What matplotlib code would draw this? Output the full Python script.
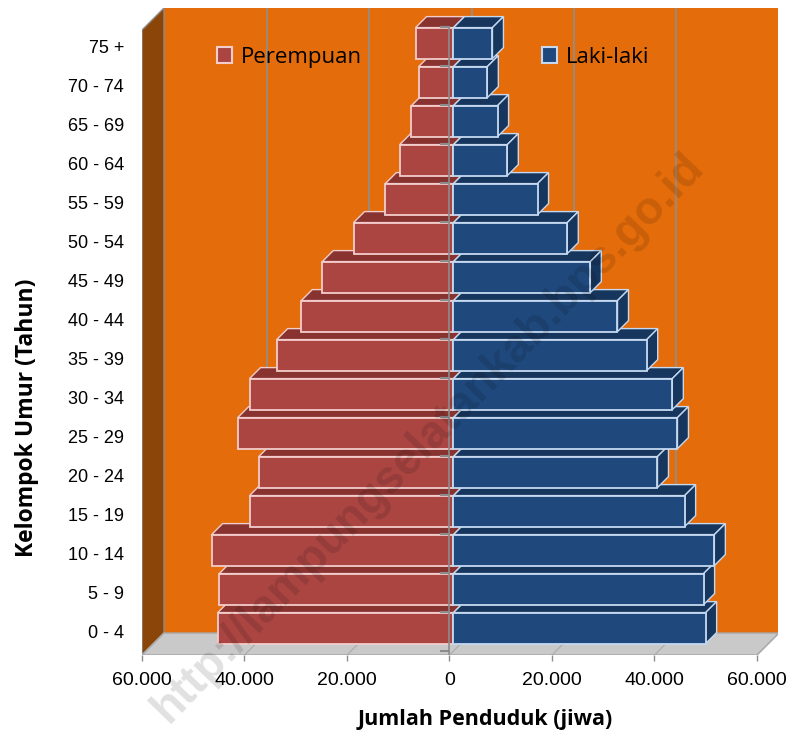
import numpy as np
import matplotlib
matplotlib.use('Agg')
import matplotlib.pyplot as plt
from matplotlib.patches import Polygon, Rectangle
from matplotlib.ticker import FuncFormatter

# ============================================================
# data
# ============================================================
age_groups = ['0 - 4', '5 - 9', '10 - 14', '15 - 19', '20 - 24', '25 - 29',
              '30 - 34', '35 - 39', '40 - 44', '45 - 49', '50 - 54', '55 - 59',
              '60 - 64', '65 - 69', '70 - 74', '75 +']
perempuan = [46000, 45700, 47200, 39800, 38000, 42100, 39800, 34500,
             29700, 25600, 19500, 13300, 10500, 8200, 6800, 7400]
laki_laki = [49200, 48800, 50900, 45100, 39800, 43700, 42700, 37700,
             32000, 26700, 22200, 16400, 10500, 8600, 6600, 7600]
x_ticks = [-60000, -40000, -20000, 0, 20000, 40000, 60000]
series_names = ['Perempuan', 'Laki-laki']

# ============================================================
# colours
# ============================================================
ORANGE = '#E46C0A'
WALL = '#8C4508'
FLOOR = '#C9C9C9'
GRID = '#8F8F8F'
F_FRONT, F_TOP, F_EDGE = '#AB4542', '#893331', '#F2CDCB'
M_FRONT, M_TOP, M_EDGE = '#1F497D', '#17365D', '#C6D9F1'

fig = plt.figure(figsize=(7.91, 7.35), dpi=100)
ax = fig.add_axes([142/791, 80/735, 636/791, 647/735])

XMIN, XMAX = -60000, 64098
YMIN, YMAX = -0.59, 16.0
ax.set_xlim(XMIN, XMAX)
ax.set_ylim(YMIN, YMAX)
for s in ax.spines.values():
    s.set_visible(False)

WDX, WDY = 4293, 0.564   # depth of walls / floor
BDX, BDY = 2146, 0.282   # depth of bars
OFX, OFY = 780, 0.10     # bars sit a bit behind the front plane
H = 0.795

# back wall, side wall, floor
ax.add_patch(Rectangle((XMIN + WDX, YMIN + WDY), 120000, YMAX - YMIN - WDY,
                       fc=ORANGE, ec='none', zorder=0))
ax.add_patch(Polygon([(XMIN, YMIN), (XMIN + WDX, YMIN + WDY), (XMIN + WDX, YMAX),
                      (XMIN, YMAX - WDY)], fc=WALL, ec='#8C8C8C', lw=1, zorder=1))
ax.add_patch(Polygon([(XMIN, YMIN), (60000, YMIN), (60000 + WDX, YMIN + WDY),
                      (XMIN + WDX, YMIN + WDY)], fc=FLOOR, ec='#A6A6A6', lw=1, zorder=1))
for t in x_ticks[1:]:
    ax.plot([t + WDX] * 2, [YMIN + WDY, YMAX], color=GRID, lw=1.2, zorder=0.5)
for t in x_ticks:
    ax.plot([t, t + WDX], [YMIN, YMIN + WDY], color='#ABABAB', lw=0.8, zorder=1.2)

# 3D-looking bars, lower rows first so upper rows cover them
for i, (f, m) in enumerate(zip(perempuan, laki_laki)):
    z = 2 + i
    y0 = i + OFY - H / 2
    y1 = y0 + H
    x0 = OFX
    ax.add_patch(Polygon([(x0 - f, y1), (x0, y1), (x0 + BDX, y1 + BDY), (x0 - f + BDX, y1 + BDY)],
                         fc=F_TOP, ec=F_EDGE, lw=1, zorder=z))
    ax.add_patch(Rectangle((x0 - f, y0), f, H, fc=F_FRONT, ec=F_EDGE, lw=1.3, zorder=z + 0.2))
    ax.add_patch(Polygon([(x0, y1), (x0 + m, y1), (x0 + m + BDX, y1 + BDY), (x0 + BDX, y1 + BDY)],
                         fc=M_TOP, ec=M_EDGE, lw=1, zorder=z))
    ax.add_patch(Polygon([(x0 + m, y0), (x0 + m + BDX, y0 + BDY), (x0 + m + BDX, y1 + BDY),
                          (x0 + m, y1)], fc=M_TOP, ec=M_EDGE, lw=1, zorder=z + 0.1))
    ax.add_patch(Rectangle((x0, y0), m, H, fc=M_FRONT, ec=M_EDGE, lw=1.3, zorder=z + 0.2))

# category axis at zero
ax.plot([0, 0], [YMIN, 15.5], color='#8C8C8C', lw=1.2, zorder=50)
for b in np.arange(len(age_groups) + 1) - 0.5:
    ax.plot([-1600, 0], [b, b], color='#8C8C8C', lw=1.5, zorder=50)

# ticks
ax.set_xticks(x_ticks)
ax.xaxis.set_major_formatter(FuncFormatter(lambda v, p: f'{abs(v):,.0f}'.replace(',', '.')))
ax.tick_params(axis='x', length=4, width=1, color='#8C8C8C', pad=8, labelsize=14)
for lab in ax.get_xticklabels():
    lab.set_family('Liberation Sans')
ax.set_yticks(range(len(age_groups)))
ax.set_yticklabels(age_groups, family='Liberation Sans', fontsize=13)
ax.tick_params(axis='y', length=0, pad=13)

# legend
handles = [Rectangle((0, 0), 1, 1, fc=F_FRONT, ec=F_EDGE, lw=1.5),
           Rectangle((0, 0), 1, 1, fc=M_FRONT, ec=M_EDGE, lw=1.5)]
ax.legend(handles, series_names, ncol=2, loc='center left', bbox_to_anchor=(0.118, 0.924),
          frameon=False, handlelength=0.68, handleheight=0.68, handletextpad=0.4,
          columnspacing=8.1, borderpad=0, borderaxespad=0,
          prop=dict(family='Open Sans', size=16))

# axis titles
fig.text(485/791, 1 - 720/735, 'Jumlah Penduduk (jiwa)', ha='center', va='center',
         family='Open Sans', fontweight='bold', fontsize=15.5)
fig.text(27/791, 1 - 418/735, 'Kelompok Umur (Tahun)', ha='center', va='center',
         rotation=90, family='Open Sans', fontweight='bold', fontsize=16.5)

# watermark
fig.text(428/791, 1 - 438/735, 'http://lampungselatankab.bps.go.id', rotation=46,
         rotation_mode='anchor', ha='center', va='center', fontsize=33,
         fontweight='bold', family='Liberation Sans', color='black', alpha=0.12, zorder=100)

plt.savefig('out.png', dpi=100)
plt.close()
